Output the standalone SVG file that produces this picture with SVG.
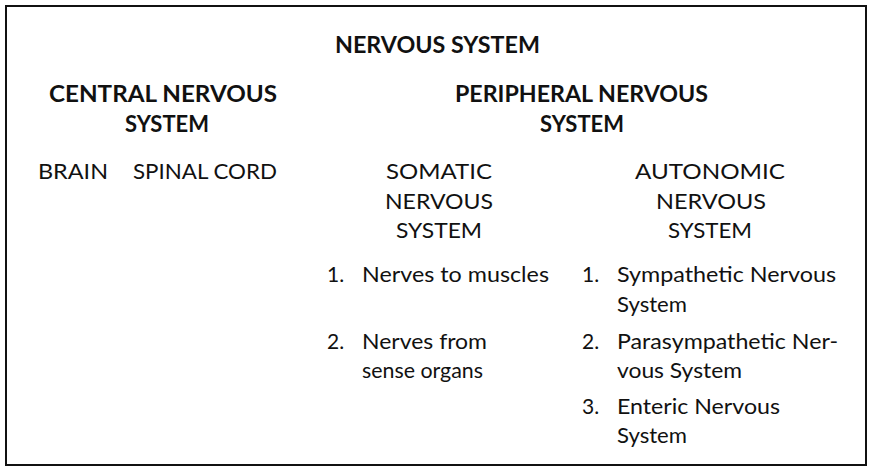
<svg xmlns="http://www.w3.org/2000/svg" width="871" height="474" viewBox="0 0 871 474">
<style>
text{font-family:Lato,"Liberation Sans",sans-serif;fill:#111;}
.h{font-size:22px;font-weight:bold;text-anchor:middle;}
.c{font-size:21px;text-anchor:middle;}
.t{font-size:21px;}
.frame{fill:#fff;stroke:#111;stroke-width:2;}
</style>
<rect x="0" y="0" width="871" height="474" fill="#fff"/>
<rect class="frame" x="6" y="6" width="860" height="459"/>
<g id="title">
<text class="h" x="437.5" y="53" textLength="205" lengthAdjust="spacingAndGlyphs">NERVOUS SYSTEM</text>
</g>
<g id="cns">
<text class="h" x="163" y="102" textLength="228" lengthAdjust="spacingAndGlyphs">CENTRAL NERVOUS</text>
<text class="h" x="167" y="132" textLength="84" lengthAdjust="spacingAndGlyphs">SYSTEM</text>
<text class="t" x="38" y="179" textLength="70" lengthAdjust="spacingAndGlyphs">BRAIN</text>
<text class="t" x="133" y="179" textLength="144" lengthAdjust="spacingAndGlyphs">SPINAL CORD</text>
</g>
<g id="pns">
<text class="h" x="581.5" y="102" textLength="253" lengthAdjust="spacingAndGlyphs">PERIPHERAL NERVOUS</text>
<text class="h" x="582" y="132" textLength="84" lengthAdjust="spacingAndGlyphs">SYSTEM</text>
</g>
<g id="somatic">
<text class="c" x="439" y="179" textLength="106" lengthAdjust="spacingAndGlyphs">SOMATIC</text>
<text class="c" x="439" y="209" textLength="108" lengthAdjust="spacingAndGlyphs">NERVOUS</text>
<text class="c" x="439" y="238" textLength="86" lengthAdjust="spacingAndGlyphs">SYSTEM</text>
<text class="t" x="327" y="282">1.</text>
<text class="t" x="362" y="282" textLength="187" lengthAdjust="spacingAndGlyphs">Nerves to muscles</text>
<text class="t" x="327" y="349">2.</text>
<text class="t" x="362" y="349" textLength="125" lengthAdjust="spacingAndGlyphs">Nerves from</text>
<text class="t" x="362" y="378" textLength="121" lengthAdjust="spacingAndGlyphs">sense organs</text>
</g>
<g id="autonomic">
<text class="c" x="710" y="179" textLength="150" lengthAdjust="spacingAndGlyphs">AUTONOMIC</text>
<text class="c" x="711" y="209" textLength="110" lengthAdjust="spacingAndGlyphs">NERVOUS</text>
<text class="c" x="710" y="238" textLength="84" lengthAdjust="spacingAndGlyphs">SYSTEM</text>
<text class="t" x="582" y="282">1.</text>
<text class="t" x="617" y="282" textLength="219" lengthAdjust="spacingAndGlyphs">Sympathetic Nervous</text>
<text class="t" x="617" y="312" textLength="70" lengthAdjust="spacingAndGlyphs">System</text>
<text class="t" x="582" y="349">2.</text>
<text class="t" x="617" y="349" textLength="221" lengthAdjust="spacingAndGlyphs">Parasympathetic Ner-</text>
<text class="t" x="617" y="378" textLength="125" lengthAdjust="spacingAndGlyphs">vous System</text>
<text class="t" x="582" y="414">3.</text>
<text class="t" x="617" y="414" textLength="163" lengthAdjust="spacingAndGlyphs">Enteric Nervous</text>
<text class="t" x="617" y="443" textLength="70" lengthAdjust="spacingAndGlyphs">System</text>
</g>
</svg>
